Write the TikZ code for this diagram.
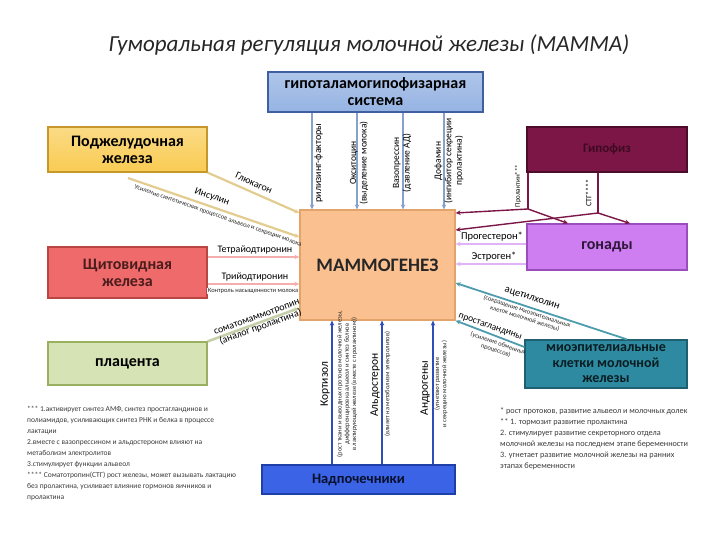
\documentclass[tikz,border=0pt]{standalone}
\usepackage{fontspec}
\setmainfont{Carlito}
\usetikzlibrary{arrows.meta,shadows}
\definecolor{topblue}{HTML}{95B3E3}
\definecolor{topblueD}{HTML}{3F5F9F}
\definecolor{gold}{HTML}{F9CB52}
\definecolor{goldD}{HTML}{C6972B}
\definecolor{maroon}{HTML}{7B1646}
\definecolor{maroonD}{HTML}{4E0C2B}
\definecolor{peach}{HTML}{FAC08F}
\definecolor{peachD}{HTML}{E2A46B}
\definecolor{thyred}{HTML}{EF6A6A}
\definecolor{thyredD}{HTML}{B94545}
\definecolor{violet}{HTML}{CF7EF2}
\definecolor{violetD}{HTML}{9A4DBD}
\definecolor{plgreen}{HTML}{D6E3B5}
\definecolor{plgreenD}{HTML}{98B060}
\definecolor{teal}{HTML}{2E8AA0}
\definecolor{tealD}{HTML}{1F5F70}
\definecolor{adrblue}{HTML}{3B63E6}
\definecolor{adrblueD}{HTML}{1F3FA8}
\definecolor{footgray}{HTML}{3A3A3A}
\begin{document}
\begin{tikzpicture}[x=1pt,y=-1pt,
  box/.style={draw, line width=1.2pt, align=center, inner sep=2pt,
    font=\bfseries\fontsize{16}{17}\selectfont,
    drop shadow={opacity=0.3, shadow xshift=1.2pt, shadow yshift=-1.2pt}},
  lbl/.style={font=\fontsize{10}{11}\selectfont, inner sep=0.5pt, align=center},
  tiny/.style={font=\fontsize{6.5}{7.2}\selectfont, inner sep=0.5pt, align=center, text=black!85},
  foot/.style={font=\fontsize{7.5}{11}\selectfont, inner sep=0pt, align=left, text=footgray},
  tip/.style={-{Stealth[length=5pt,width=4.5pt]}},
  toparr/.style={tip, draw=topblue!90!black, line width=1.8pt},
  botarr/.style={tip, draw=adrblue!80!black, line width=1.4pt},
  pancarr/.style={tip, draw=gold!55!white!90!black, line width=2.2pt},
  thyarr/.style={tip, draw=thyred!55!white, line width=1.8pt},
  placarr/.style={tip, draw=plgreen!80!gray, line width=2.6pt},
  hyparr/.style={tip, draw=maroon, line width=1.4pt},
  hypline/.style={draw=maroon, line width=1.4pt},
  gonarr/.style={tip, draw=violet!60!white, line width=1.8pt},
  myoarr/.style={tip, draw=teal!85!white, line width=1.8pt}
]
\useasboundingbox (0,0) rectangle (720,540);

% title
\node[font=\itshape\fontsize{23}{26}\selectfont, text=black!85] (title) at (369,45)
  {Гуморальная регуляция молочной железы (МАММА)};

% boxes
\node[box, top color=topblue!75!white, bottom color=topblue, draw=topblueD,
  minimum width=215, minimum height=40] (top) at (375.5,92) {гипоталамогипофизарная\\система};
\node[box, top color=gold!70!white, bottom color=gold, draw=goldD,
  minimum width=159, minimum height=45] (panc) at (127.5,149.5) {Поджелудочная\\железа};
\node[box, fill=maroon, draw=maroonD, text=maroonD!80!black,
  font=\bfseries\fontsize{13}{14}\selectfont,
  minimum width=160, minimum height=45] (hyp) at (607,149.5) {Гипофиз};
\node[box, fill=peach, draw=peachD, font=\bfseries\fontsize{19}{20}\selectfont,
  text=black!85, minimum width=155, minimum height=110] (main) at (377.5,265) {МАММОГЕНЕЗ};
\node[box, fill=thyred, draw=thyredD, text=thyredD!40!black,
  minimum width=159, minimum height=51] (thy) at (127.5,272.5) {Щитовидная\\железа};
\node[box, fill=violet, draw=violetD, text=violetD!30!black,
  minimum width=160, minimum height=46] (gon) at (607,247) {гонады};
\node[box, fill=plgreen, draw=plgreenD, minimum width=159, minimum height=43] (plac) at (127.5,363.5) {плацента};
\node[box, fill=teal, draw=tealD, text=tealD!30!black, font=\bfseries\fontsize{14}{15.5}\selectfont,
  minimum width=162, minimum height=48] (myo) at (606,364) {миоэпителиальные\\клетки молочной\\железы};
\node[box, fill=adrblue, draw=adrblueD, text=adrblueD!25!black, font=\bfseries\fontsize{14.5}{16}\selectfont,
  minimum width=193, minimum height=29] (adr) at (358.5,479.5) {Надпочечники};

% helper coordinates
\coordinate (v1) at (312,0);
\coordinate (v2) at (357,0);
\coordinate (v3) at (403,0);
\coordinate (v4) at (444,0);
\coordinate (b1) at (332,0);
\coordinate (b2) at (382,0);
\coordinate (b3) at (433,0);
\coordinate (yGl) at (0,213);
\coordinate (yIn) at (0,237);
\coordinate (insS) at (128,178);
\coordinate (yT1) at (0,257);
\coordinate (yT2) at (0,284);
\coordinate (yPl) at (0,308);
\coordinate (h1) at (528,209);
\coordinate (h2) at (598,213);
\coordinate (yH1) at (0,213);
\coordinate (yH2) at (0,230);
\coordinate (g1) at (568,0);
\coordinate (g2) at (630,0);
\coordinate (yG1) at (0,244);
\coordinate (yG2) at (0,264);
\coordinate (m1) at (627,0);
\coordinate (yM1) at (0,283);
\coordinate (yM2) at (0,347);

% top arrows
\draw[toparr] (top.south -| v1) -- (main.north -| v1);
\draw[toparr] (top.south -| v2) -- (main.north -| v2);
\draw[toparr] (top.south -| v3) -- (main.north -| v3);
\draw[toparr] (top.south -| v4) -- (main.north -| v4);
\node[lbl, rotate=90] (t1) at (318.5,163) {рилизинг-факторы};
\node[lbl, rotate=90, font=\fontsize{9.5}{10.5}\selectfont] (t2) at (359,163) {Окситоцин\\(выделение молока)};
\node[lbl, rotate=90, font=\fontsize{9.5}{10.5}\selectfont] (t3) at (402,163) {Вазопрессин\\(давление АД)};
\node[lbl, rotate=90, font=\fontsize{9.5}{10.5}\selectfont] (t4) at (449,161) {Дофамин\\(ингибитор секреции\\пролактина)};

% pancreas
\draw[pancarr] (panc.south east) -- (main.west |- yGl);
\draw[pancarr] (insS) -- (main.west |- yIn);
\node[lbl, rotate=-24] (glu) at (254,183) {Глюкагон};
\node[lbl, rotate=-19] (ins) at (212,197) {Инсулин};
\node[tiny, rotate=-19] (insn) at (218,216) {Усиление синтетических процессов альвеол и секреции молока};

% thyroid
\draw[thyarr] (thy.east |- yT1) -- (main.west |- yT1);
\draw[thyarr] (thy.east |- yT2) -- (main.west |- yT2);
\node[lbl, fill=white] (t4l) at (255,250) {Тетрайодтиронин};
\node[lbl, fill=white] (t3l) at (255,277) {Трийодтиронин};
\node[tiny, fill=white] (t3n) at (253,291) {Контроль насыщенности молока};

% placenta
\draw[placarr] (plac.north east) -- (main.west |- yPl);
\node[lbl, rotate=20] (som) at (259,323) {соматомаммотропин\\(аналог пролактина)};

% hypophysis
\draw[hypline] (hyp.south -| h1) -- (h1);
\draw[hypline] (hyp.south -| h2) -- (h2);
\draw[hyparr] (h1) -- (main.east |- yH1);
\draw[hyparr] (h1) -- (gon.north -| g1);
\draw[hyparr] (h2) -- (main.east |- yH2);
\draw[hyparr] (h2) -- (gon.north -| g2);
\node[lbl, rotate=90, font=\fontsize{7}{8}\selectfont] (prl) at (518,186) {Пролактин***};
\node[lbl, rotate=90, font=\fontsize{8}{9}\selectfont] (stg) at (588.5,193) {СТГ****};

% gonads
\draw[gonarr] (gon.west |- yG1) -- (main.east |- yG1);
\draw[gonarr] (gon.west |- yG2) -- (main.east |- yG2);
\node[lbl, fill=white, font=\fontsize{10.5}{11}\selectfont] (prg) at (492,237) {Прогестерон*};
\node[lbl, font=\fontsize{10.5}{11}\selectfont] (est) at (494,257) {Эстроген*};

% myoepithelium
\draw[myoarr] (myo.north -| m1) -- (main.east |- yM1);
\draw[myoarr] (myo.west |- yM2) -- (main.south east);
\node[lbl, rotate=-18, font=\fontsize{10.5}{11}\selectfont] (ach) at (532,299) {ацетилхолин};
\node[tiny, rotate=-18] (achn) at (526,315) {(сокращение миоэпителиальных\\клеток молочной железы)};
\node[lbl, rotate=-19, font=\fontsize{9.5}{10}\selectfont] (psg) at (490,327) {простагландины};
\node[tiny, rotate=-19] (psgn) at (497,347) {(усиление обменных\\процессов)};

% adrenal arrows
\draw[botarr] (adr.north -| b1) -- (main.south -| b1);
\draw[botarr] (adr.north -| b2) -- (main.south -| b2);
\draw[botarr] (adr.north -| b3) -- (main.south -| b3);
\node[lbl, rotate=90, font=\fontsize{11.5}{12}\selectfont] (kor) at (325,384) {Кортизол};
\node[tiny, rotate=90] (korn) at (347,384) {(рост ткани и выводных протоков молочной железы,\\дифференцировка альвеол и синтез белков\\в лактирующей железе (вместе с пролактином))};
\node[lbl, rotate=90, font=\fontsize{11.5}{12}\selectfont] (ald) at (375,385) {Альдостерон};
\node[tiny, rotate=90] (aldn) at (387.5,384) {(влияет на метаболизм электролитов)};
\node[lbl, rotate=90, font=\fontsize{11.5}{12}\selectfont] (and) at (425,388) {Андрогены};
\node[tiny, rotate=90] (andn) at (441,384) {(угнетают развитие\\и секрецию молочной железы)};

% footnotes
\node[foot, anchor=north west] (fl) at (27,406) {%
*** 1.активирует синтез АМФ, синтез простагландинов и\\
полиамидов, усиливающих синтез РНК и белка в процессе\\
лактации\\
2.вместе с вазопрессином и альдостероном влияют на\\
метаболизм электролитов\\
3.стимулирует функции альвеол\\
**** Соматотропин(СТГ) рост железы, может вызывать лактацию\\
без пролактина, усиливает влияние гормонов яичников и\\
пролактина};
\node[foot, anchor=north west, font=\fontsize{8.2}{11}\selectfont] (fr) at (500,407) {%
* рост протоков, развитие альвеол и молочных долек\\
** 1. тормозит развитие пролактина\\
2. стимулирует развитие секреторного отдела\\
молочной железы на последнем этапе беременности\\
3. угнетает развитие молочной железы на ранних\\
этапах беременности};
\end{tikzpicture}
\end{document}
